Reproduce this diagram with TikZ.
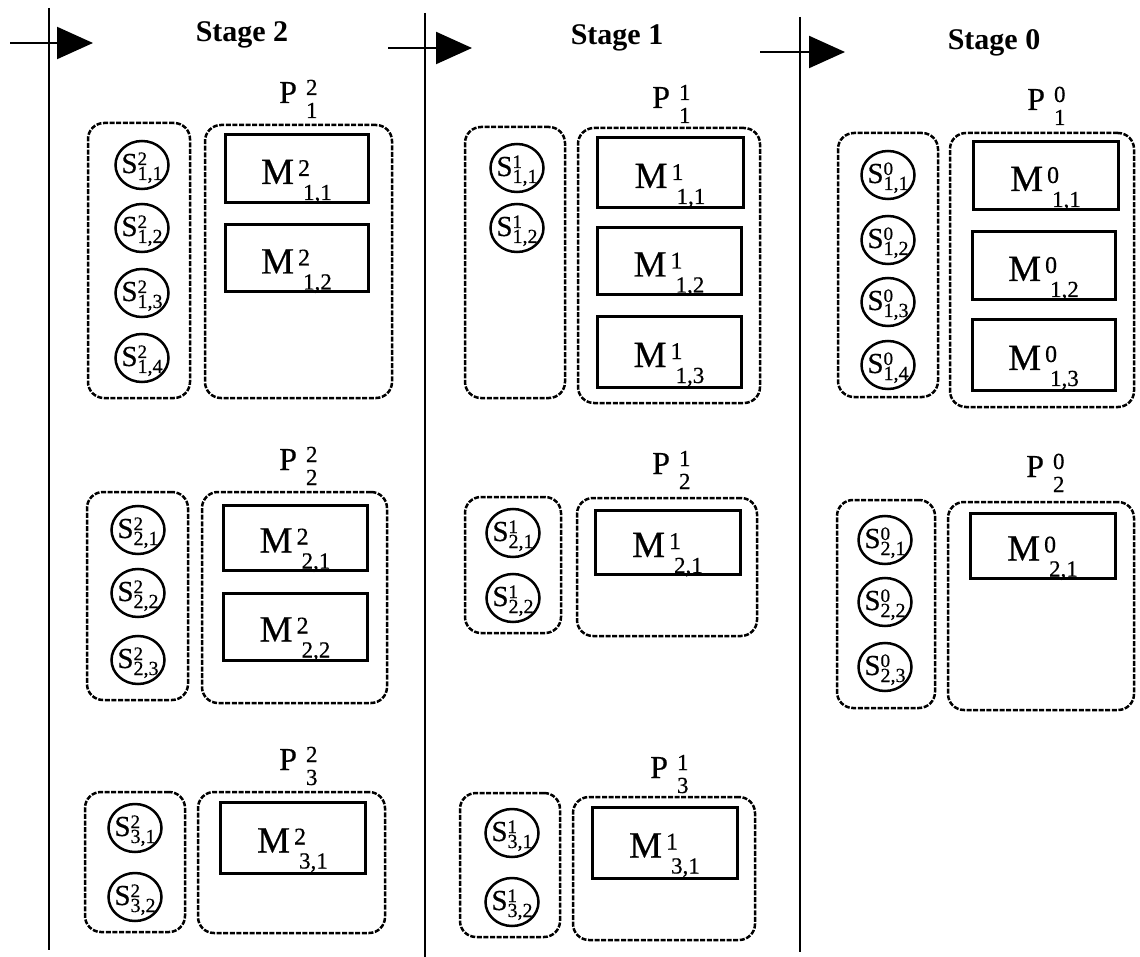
\documentclass[tikz,border=0pt]{standalone}
\usepackage{fontspec}
\setmainfont{Liberation Serif}
\newfontfamily\scanfont{Liberation Serif}[FakeBold=0.5]
\usetikzlibrary{arrows.meta,shapes.geometric,fit}

\newcommand{\PLab}[2]{\scanfont{\fontsize{32}{32}\selectfont P}\hspace{9pt}\rlap{\raisebox{8pt}{\fontsize{23}{23}\selectfont #1}}\raisebox{-15pt}{\fontsize{23}{23}\selectfont #2}}
\newcommand{\MLab}[2]{\scanfont{\fontsize{37}{37}\selectfont M}\hspace{4pt}\rlap{\raisebox{8pt}{\fontsize{24}{24}\selectfont #1}}\hspace{5pt}\raisebox{-16pt}{\fontsize{23}{23}\selectfont #2}}
\newcommand{\SLab}[2]{\scanfont{\fontsize{29}{29}\selectfont S}\rlap{\raisebox{8pt}{\fontsize{19}{19}\selectfont #1}}\raisebox{-7pt}{\fontsize{20}{20}\selectfont #2}}
\newcommand{\mkbox}[6]{%
  \path (#3,#4) coordinate (#1-nw) (#5,#6) coordinate (#1-se);
  \node[#2, fit=(#1-nw)(#1-se)] (#1) {};}

\tikzset{
  cont/.style={draw, line width=2.5pt, dash pattern=on 5pt off 1.6pt, rounded corners=16pt, inner sep=0pt},
  mbox/.style={draw, line width=3pt, inner sep=0pt},
  snode/.style={draw, ellipse, line width=2.5pt, minimum width=53pt, minimum height=48pt, inner sep=0pt},
  lab/.style={inner sep=0pt, anchor=base},
  plab/.style={inner sep=0pt, anchor=base west},
  stage/.style={font=\fontsize{30}{30}\selectfont\bfseries, inner sep=0pt, anchor=base},
  flow/.style={line width=2.2pt, -{Triangle[length=36pt,width=32pt]}},
  sepline/.style={line width=2.2pt},
}

\begin{document}
\begin{tikzpicture}[x=1pt,y=-1pt]
\useasboundingbox (0,0) rectangle (1140,957);

% separators and stage arrows
\coordinate (v1t) at (49,8);   \coordinate (v1b) at (49,950);
\coordinate (v2t) at (425,13); \coordinate (v2b) at (425,957);
\coordinate (v3t) at (800,17); \coordinate (v3b) at (800,952);
\draw[sepline] (v1t) -- (v1b);
\draw[sepline] (v2t) -- (v2b);
\draw[sepline] (v3t) -- (v3b);
\coordinate (a2s) at (10,43);  \coordinate (a2e) at (93,43);
\coordinate (a1s) at (388,48); \coordinate (a1e) at (472,48);
\coordinate (a0s) at (760,52); \coordinate (a0e) at (845,52);
\draw[flow] (a2s) -- (a2e);
\draw[flow] (a1s) -- (a1e);
\draw[flow] (a0s) -- (a0e);

\node[stage] (st2) at (242,42) {Stage 2};
\node[stage] (st1) at (617,45) {Stage 1};
\node[stage] (st0) at (994,50) {Stage 0};

% ---------------- Stage 2 ----------------
\node[plab] (pA1) at (279,103) {\PLab{2}{1}};
\mkbox{cSA1}{cont}{88}{123}{190}{398}
\mkbox{cMA1}{cont}{205}{125}{392}{398}
\mkbox{mA11}{mbox}{225}{135}{368}{203}
\mkbox{mA12}{mbox}{225}{225}{368}{292}
\node[lab] (lmA11) at ([yshift=-15pt]mA11.center) {\MLab{2}{1,1}};
\node[lab] (lmA12) at ([yshift=-15pt]mA12.center) {\MLab{2}{1,2}};
\foreach \y/\k in {165/1,228/2,293/3,358/4}{
  \node[snode] (sA1\k) at (142,\y) {};
  \node[lab] (lsA1\k) at ([yshift=-8pt]sA1\k.center) {\SLab{2}{1,\k}};
}

\node[plab] (pA2) at (279,470) {\PLab{2}{2}};
\mkbox{cSA2}{cont}{87}{492}{188}{700}
\mkbox{cMA2}{cont}{202}{492}{387}{703}
\mkbox{mA21}{mbox}{223}{505}{367}{570}
\mkbox{mA22}{mbox}{223}{593}{367}{660}
\node[lab] (lmA21) at ([yshift=-15pt]mA21.center) {\MLab{2}{2,1}};
\node[lab] (lmA22) at ([yshift=-15pt]mA22.center) {\MLab{2}{2,2}};
\foreach \y/\k in {530/1,593/2,660/3}{
  \node[snode] (sA2\k) at (138,\y) {};
  \node[lab] (lsA2\k) at ([yshift=-8pt]sA2\k.center) {\SLab{2}{2,\k}};
}

\node[plab] (pA3) at (279,770) {\PLab{2}{3}};
\mkbox{cSA3}{cont}{85}{792}{185}{932}
\mkbox{cMA3}{cont}{198}{792}{385}{933}
\mkbox{mA31}{mbox}{220}{802}{365}{873}
\node[lab] (lmA31) at ([yshift=-15pt]mA31.center) {\MLab{2}{3,1}};
\foreach \y/\k in {828/1,897/2}{
  \node[snode] (sA3\k) at (135,\y) {};
  \node[lab] (lsA3\k) at ([yshift=-8pt]sA3\k.center) {\SLab{2}{3,\k}};
}

% ---------------- Stage 1 ----------------
\node[plab] (pB1) at (652,108) {\PLab{1}{1}};
\mkbox{cSB1}{cont}{465}{127}{565}{398}
\mkbox{cMB1}{cont}{578}{128}{760}{403}
\mkbox{mB11}{mbox}{597}{138}{743}{208}
\mkbox{mB12}{mbox}{597}{228}{741}{295}
\mkbox{mB13}{mbox}{597}{317}{741}{387}
\node[lab] (lmB11) at ([yshift=-15pt]mB11.center) {\MLab{1}{1,1}};
\node[lab] (lmB12) at ([yshift=-15pt]mB12.center) {\MLab{1}{1,2}};
\node[lab] (lmB13) at ([yshift=-15pt]mB13.center) {\MLab{1}{1,3}};
\foreach \y/\k in {168/1,228/2}{
  \node[snode] (sB1\k) at (517,\y) {};
  \node[lab] (lsB1\k) at ([yshift=-8pt]sB1\k.center) {\SLab{1}{1,\k}};
}

\node[plab] (pB2) at (652,474) {\PLab{1}{2}};
\mkbox{cSB2}{cont}{465}{497}{561}{633}
\mkbox{cMB2}{cont}{577}{498}{757}{636}
\mkbox{mB21}{mbox}{595}{510}{740}{574}
\node[lab] (lmB21) at ([yshift=-15pt]mB21.center) {\MLab{1}{2,1}};
\foreach \y/\k in {533/1,598/2}{
  \node[snode] (sB2\k) at (513,\y) {};
  \node[lab] (lsB2\k) at ([yshift=-8pt]sB2\k.center) {\SLab{1}{2,\k}};
}

\node[plab] (pB3) at (650,778) {\PLab{1}{3}};
\mkbox{cSB3}{cont}{460}{793}{560}{937}
\mkbox{cMB3}{cont}{573}{797}{755}{940}
\mkbox{mB31}{mbox}{592}{807}{737}{878}
\node[lab] (lmB31) at ([yshift=-15pt]mB31.center) {\MLab{1}{3,1}};
\foreach \y/\k in {833/1,902/2}{
  \node[snode] (sB3\k) at (512,\y) {};
  \node[lab] (lsB3\k) at ([yshift=-8pt]sB3\k.center) {\SLab{1}{3,\k}};
}

% ---------------- Stage 0 ----------------
\node[plab] (pC1) at (1027,110) {\PLab{0}{1}};
\mkbox{cSC1}{cont}{838}{133}{938}{397}
\mkbox{cMC1}{cont}{950}{133}{1134}{407}
\mkbox{mC11}{mbox}{973}{142}{1118}{210}
\mkbox{mC12}{mbox}{972}{232}{1115}{300}
\mkbox{mC13}{mbox}{972}{320}{1115}{390}
\node[lab] (lmC11) at ([yshift=-15pt]mC11.center) {\MLab{0}{1,1}};
\node[lab] (lmC12) at ([yshift=-15pt]mC12.center) {\MLab{0}{1,2}};
\node[lab] (lmC13) at ([yshift=-15pt]mC13.center) {\MLab{0}{1,3}};
\foreach \y/\k in {175/1,240/2,302/3,365/4}{
  \node[snode] (sC1\k) at (888,\y) {};
  \node[lab] (lsC1\k) at ([yshift=-8pt]sC1\k.center) {\SLab{0}{1,\k}};
}

\node[plab] (pC2) at (1026,477) {\PLab{0}{2}};
\mkbox{cSC2}{cont}{837}{500}{935}{708}
\mkbox{cMC2}{cont}{948}{502}{1134}{710}
\mkbox{mC21}{mbox}{970}{513}{1115}{578}
\node[lab] (lmC21) at ([yshift=-15pt]mC21.center) {\MLab{0}{2,1}};
\foreach \y/\k in {540/1,602/2,667/3}{
  \node[snode] (sC2\k) at (885,\y) {};
  \node[lab] (lsC2\k) at ([yshift=-8pt]sC2\k.center) {\SLab{0}{2,\k}};
}
\end{tikzpicture}
\end{document}
